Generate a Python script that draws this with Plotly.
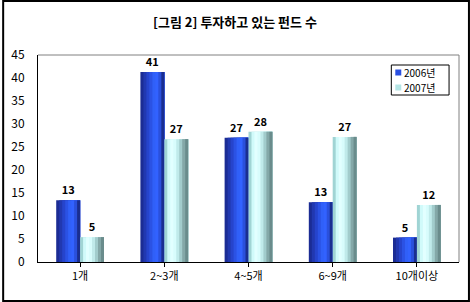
import plotly.graph_objects as go

categories = ["1개", "2~3개", "4~5개", "6~9개", "10개이상"]
series_names = ["2006년", "2007년"]
values_2006 = [13.4, 41.3, 27.0, 13.0, 5.3]
values_2007 = [5.4, 26.7, 28.3, 27.2, 12.4]
y_ticks = [0, 5, 10, 15, 20, 25, 30, 35, 40, 45]
title_text = "[그림 2] 투자하고 있는 펀드 수"

W, H = 470, 302
ML, MR, MT, MB = 36, 11, 55, 40
PW, PH = W - ML - MR, H - MT - MB

FONT = "Noto Sans CJK KR"

grad_2006 = ["#1b2c94", "#2138b0", "#2644cc", "#2b52e4", "#3060f8", "#3262ff", "#2a50dc", "#1a2e90"]
grad_2007 = ["#a0d4d4", "#d0fafa", "#e2ffff", "#d8fcfc", "#c0eaea", "#a2cccc", "#84a8a8", "#6a8c8c"]
legend_colors = ["#2a4fe0", "#b4e4e4"]

bw = 24 / (PW / 5)  # bar width in category units
x_idx = list(range(len(categories)))


def px_x(p):
    return (p - ML) / PW


def px_y(p):
    return (H - MB - p) / PH


fig = go.Figure()


def add_series(vals, grad, start):
    n = len(grad)
    sw = bw / n
    for i, c in enumerate(grad):
        fig.add_trace(go.Bar(
            x=x_idx, y=vals, offset=start + i * sw, width=bw - i * sw,
            marker=dict(color=c, line=dict(width=0)),
            showlegend=False, hoverinfo="skip"))
    fig.add_trace(go.Bar(
        x=x_idx, y=vals, offset=start, width=bw,
        marker=dict(color="rgba(0,0,0,0)", line=dict(width=0)),
        texttemplate="<b>%{y:.0f}</b>", textposition="outside",
        textfont=dict(family=FONT, size=11, color="black"),
        cliponaxis=False, showlegend=False, hoverinfo="skip"))


add_series(values_2006, grad_2006, -bw)
add_series(values_2007, grad_2007, 0)

fig.update_layout(
    width=W, height=H,
    margin=dict(l=ML, r=MR, t=MT, b=MB, pad=0),
    paper_bgcolor="white", plot_bgcolor="white",
    barmode="overlay",
    showlegend=False,
    font=dict(family=FONT, size=11, color="black"),
    title=dict(text="<b>" + title_text + "</b>", x=0.5, xanchor="center", y=1 - 22 / H, yanchor="middle",
               font=dict(family=FONT, size=13, color="black")),
    xaxis=dict(range=[-0.5, 4.5], tickmode="array", tickvals=x_idx, ticktext=categories,
               showline=True, linecolor="black", linewidth=1, showgrid=False,
               ticks="outside", ticklen=4, tickcolor="black", tickson="boundaries",
               tickfont=dict(family=FONT, size=11), zeroline=False),
    yaxis=dict(range=[0, 45], tickmode="array", tickvals=y_ticks,
               showline=True, linecolor="black", linewidth=1, showgrid=False,
               ticks="", ticklabelstandoff=10, tickfont=dict(family=FONT, size=12), zeroline=False),
)

# gray top/right plot border
fig.add_shape(type="line", xref="paper", yref="paper", x0=0, x1=1, y0=1, y1=1, line=dict(color="#808080", width=1))
fig.add_shape(type="line", xref="paper", yref="paper", x0=1, x1=1, y0=0, y1=1, line=dict(color="#808080", width=1))
# outer black border
fig.add_shape(type="rect", xref="paper", yref="paper",
              x0=px_x(1), x1=px_x(W - 1), y0=px_y(H - 1), y1=px_y(1),
              line=dict(color="black", width=2))

# manual legend
LX0, LX1, LY0, LY1 = 391, 449, 65, 95
fig.add_shape(type="rect", xref="paper", yref="paper",
              x0=px_x(LX0), x1=px_x(LX1), y0=px_y(LY1), y1=px_y(LY0),
              line=dict(color="black", width=1), fillcolor="white", layer="above")
row_y = [72.5, 87.5]
for cy, col, nm in zip(row_y, legend_colors, series_names):
    fig.add_shape(type="rect", xref="paper", yref="paper",
                  x0=px_x(395), x1=px_x(401), y0=px_y(cy + 3), y1=px_y(cy - 3),
                  line=dict(width=0), fillcolor=col, layer="above")
    fig.add_annotation(xref="paper", yref="paper", x=px_x(403), y=px_y(cy),
                       text=nm, showarrow=False, xanchor="left", yanchor="middle",
                       align="left", borderpad=0,
                       font=dict(family=FONT, size=10, color="black"))

fig.write_html("out.html")
